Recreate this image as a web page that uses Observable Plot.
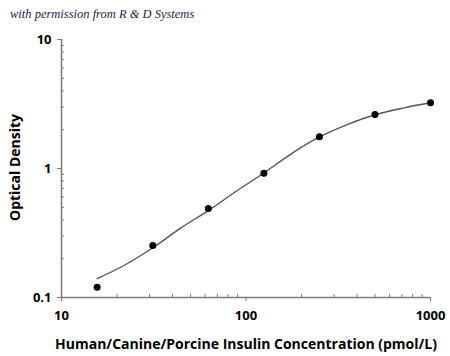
<!DOCTYPE html>
<html>
<head>
<meta charset="utf-8">
<script src="https://cdn.jsdelivr.net/npm/d3@7"></script>
<script src="https://cdn.jsdelivr.net/npm/@observablehq/plot@0.6"></script>
<style>
  html, body { margin: 0; padding: 0; background: #fff; }
  #wrap { position: relative; width: 450px; height: 356px; }
  #title { position: absolute; left: 10px; top: 7px; font-family: "Liberation Serif", serif; font-style: italic; font-size: 12.5px; color: #1c2340; white-space: nowrap; }
</style>
</head>
<body>
<div id="wrap">
  <div id="title">with permission from R &amp; D Systems</div>
</div>
<script>
// Standards (measured points)
const concentrations = [15.6, 31.25, 62.5, 125, 250, 500, 1000];
const opticalDensity = [0.12, 0.253, 0.49, 0.92, 1.76, 2.62, 3.23];

// Fitted curve
const curveConc = [15.6, 21.8, 31.25, 44.2, 62.5, 87.7, 125, 176, 250, 354, 500, 717, 1000];
const curveOD   = [0.14, 0.177, 0.243, 0.345, 0.472, 0.66, 0.923, 1.30, 1.755, 2.19, 2.61, 2.95, 3.23];

// Tick values
const xMajor = [10, 100, 1000];
const xMinor = [20, 30, 40, 50, 60, 70, 80, 90, 200, 300, 400, 500, 600, 700, 800, 900];
const yMajor = [0.1, 1, 10];
const yMinor = [0.2, 0.3, 0.4, 0.5, 0.6, 0.7, 0.8, 0.9, 2, 3, 4, 5, 6, 7, 8, 9];

const xLabel = "Human/Canine/Porcine Insulin Concentration (pmol/L)";
const yLabel = "Optical Density";

const points = concentrations.map((c, i) => ({conc: c, od: opticalDensity[i]}));
const curve = curveConc.map((c, i) => ({conc: c, od: curveOD[i]}));

const W = 450, H = 356;
const mL = 61, mR = 20, mT = 39, mB = 59;
const axisColor = "#7a7a7a";

const chart = Plot.plot({
  width: W,
  height: H,
  marginLeft: mL,
  marginRight: mR,
  marginTop: mT,
  marginBottom: mB,
  style: {fontFamily: "'Open Sans', sans-serif", fontSize: "13px", background: "white", color: "black"},
  x: {type: "log", domain: [10, 1000], axis: null},
  y: {type: "log", domain: [0.1, 10], axis: null},
  marks: [
    // minor ticks (inside the frame)
    Plot.tickX(xMinor, {x: d => d, stroke: axisColor, insetTop: (H - mT - mB) - 3}),
    Plot.tickY(yMinor, {y: d => d, stroke: axisColor, insetRight: (W - mL - mR) - 3}),
    // major ticks + labels
    Plot.axisX(xMajor, {anchor: "bottom", tickSize: 4, tickPadding: 9, stroke: axisColor, fill: "black", fontWeight: "bold", fontSize: 13, tickFormat: d => String(d), label: null}),
    Plot.axisY(yMajor, {anchor: "left", tickSize: 4, tickPadding: 6, stroke: axisColor, fill: "black", fontWeight: "bold", fontSize: 13, tickFormat: d => String(d), label: null}),
    // axis lines
    Plot.ruleX([10], {stroke: axisColor, strokeWidth: 1.5}),
    Plot.ruleY([0.1], {stroke: axisColor, strokeWidth: 1.5}),
    // fitted curve
    Plot.line(curve, {x: "conc", y: "od", curve: "catmull-rom", stroke: "#555", strokeWidth: 1.4}),
    // points
    Plot.dot(points, {x: "conc", y: "od", r: 3.5, fill: "black", stroke: null}),
    // axis labels
    Plot.text([xLabel], {text: d => d, frameAnchor: "bottom", dy: 47, lineAnchor: "middle", fontWeight: "bold", fontSize: 14, fill: "black"}),
    Plot.text([yLabel], {text: d => d, frameAnchor: "left", dx: -46, dy: -1, rotate: -90, textAnchor: "middle", lineAnchor: "middle", fontWeight: "bold", fontSize: 14, fill: "black"})
  ]
});
document.getElementById("wrap").appendChild(chart);
</script>
</body>
</html>
